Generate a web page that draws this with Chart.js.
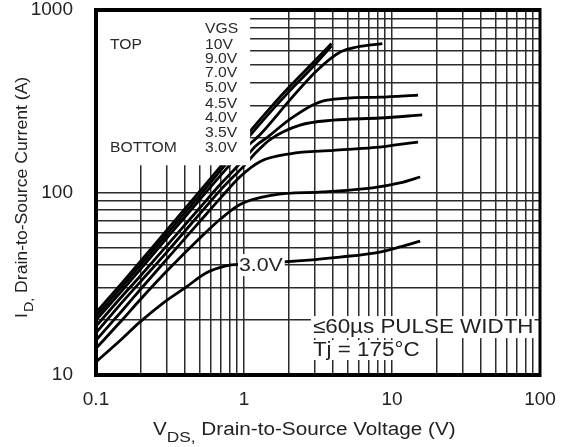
<!DOCTYPE html>
<html>
<head>
<meta charset="utf-8">
<script src="https://cdn.jsdelivr.net/npm/chart.js@4.4.1/dist/chart.umd.min.js"></script>
<style>
html,body{margin:0;padding:0;background:#fff;}
#wrap{width:566px;height:447px;position:relative;}
</style>
</head>
<body>
<div id="wrap"><canvas id="c" width="566" height="447"></canvas></div>
<script>
// ---- data (VDS in V, ID in A) ----
const vgsLabels = ['10V','9.0V','7.0V','5.0V','4.5V','4.0V','3.5V','3.0V'];

const vds_10V = [0.1,0.15,0.2,0.3,0.5,0.7,1,1.5,2,3,3.9];
const id_10V  = [22,32,42,62,101,140,198,290,375,525,655];

const vds_9V  = [0.1,0.15,0.2,0.3,0.5,0.7,1,1.5,2,3,3.9];
const id_9V   = [21,30.5,40,59,96,133,188,275,355,500,635];

const vds_7V  = [0.1,0.15,0.2,0.3,0.5,0.7,1,1.3,2.1,3.1,4.5,5.8,8.6];
const id_7V   = [20,29,38,56,91,125,172,210,330,465,590,627,655];

const vds_5V  = [0.1,0.15,0.2,0.3,0.5,0.7,1,1.2,1.43,2.14,3.64,8.3,15];
const id_5V   = [18.5,27,35,51,82,112,152,180,200,259,321,333,342];

const vds_4_5V = [0.1,0.15,0.2,0.3,0.5,0.7,1,1.2,1.5,2.39,4,8.3,16];
const id_4_5V  = [17,25,32.5,47,76,104,140,165,195,234,249,256,266];

const vds_4V  = [0.1,0.15,0.2,0.3,0.5,0.7,0.94,1.29,2.05,4,7.4,10,15];
const id_4V   = [15.5,22.5,29.5,43,69,94,122,148,163,170,176,181,189];

const vds_3_5V = [0.1,0.15,0.2,0.3,0.5,0.7,0.94,1.57,3.4,7.4,11.3,15.5];
const id_3_5V  = [14,20,26,37,56,72,86,96.8,100.7,106,112.8,121.6];

const vds_3V  = [0.1,0.15,0.195,0.284,0.406,0.554,0.755,1.0,1.83,4.45,8.3,11.3,15.5];
const id_3V   = [11.8,15.8,19.3,24.8,30.3,36.2,39.6,40.5,41.6,44.3,47.2,50.3,54.2];

const xTickLabels = ['0.1','1','10','100'];
const yTickLabels = ['10','100','1000'];

// ---- build ----
function pts(xs, ys){ return xs.map((x,i)=>({x:x, y:ys[i]})); }
const series = [
  [vds_10V,id_10V],[vds_9V,id_9V],[vds_7V,id_7V],[vds_5V,id_5V],
  [vds_4_5V,id_4_5V],[vds_4V,id_4V],[vds_3_5V,id_3_5V],[vds_3V,id_3V]
];
function logGrid(lo, hi){
  const out=[];
  for(let d=lo; d<hi; d++){ for(let k=1;k<10;k++){ out.push(k*Math.pow(10,d)); } }
  out.push(Math.pow(10,hi));
  return out;
}
function isMajor(v){ const l=Math.log10(v); return Math.abs(l-Math.round(l))<1e-9; }
function majorIndex(v, lo){ return Math.round(Math.log10(v)) - lo; }

const FONT = '"Liberation Sans", Arial, sans-serif';
const INK = '#222';

function drawText(ctx, s, x, y, size, sx, align, base){
  ctx.save();
  ctx.font = size + 'px ' + FONT;
  ctx.textBaseline = base || 'middle';
  ctx.translate(x, y);
  ctx.scale(sx, 1);
  ctx.textAlign = align || 'left';
  ctx.fillText(s, 0, 0);
  ctx.restore();
}
function textW(ctx, s, size, sx){
  ctx.save(); ctx.font = size + 'px ' + FONT; const w = ctx.measureText(s).width*sx; ctx.restore(); return w;
}

const overlay = {
  id:'overlay',
  beforeDraw(chart){
    const ctx=chart.ctx; ctx.save(); ctx.fillStyle='#fff'; ctx.fillRect(0,0,chart.width,chart.height); ctx.restore();
  },
  afterDatasetsDraw(chart){
    const ctx=chart.ctx, a=chart.chartArea, xs=chart.scales.x, ys=chart.scales.y;
    ctx.save();
    ctx.fillStyle = INK;
    // legend box (white, hides grid and curves)
    const bx = xs.getPixelForValue(1.1), by = ys.getPixelForValue(141);
    ctx.fillStyle='#fff';
    ctx.fillRect(a.left, a.top, bx-a.left, by-a.top);
    ctx.fillStyle = '#2a2a2a';
    const colX = a.left + 109, leftX = a.left + 14;
    drawText(ctx,'VGS',colX,a.top+19.5,14,1.12);
    drawText(ctx,'TOP',leftX,a.top+35,14,1.12);
    const rowsY=[35,49,63,78,94,108.5,123,138];
    vgsLabels.forEach((l,i)=>drawText(ctx,l,colX,a.top+rowsY[i],14,1.12));
    drawText(ctx,'BOTTOM',leftX,a.top+138,14,1.12);

    // 3.0V curve label
    const lx = xs.getPixelForValue(0.925), ly = ys.getPixelForValue(40);
    const lw = textW(ctx,'3.0V',19,1.12);
    ctx.fillStyle='#fff'; ctx.fillRect(lx-1, ly-11, lw+3, 22);
    ctx.fillStyle=INK; drawText(ctx,'3.0V',lx,ly+1,19,1.12);

    // pulse width note
    const px = xs.getPixelForValue(2.92);
    const p1y = ys.getPixelForValue(18.3), p2y = ys.getPixelForValue(13.7);
    const s1='\u226460\u00b5s PULSE WIDTH', s2='Tj = 175\u00b0C';
    const w1=textW(ctx,s1,20,1.12), w2=textW(ctx,s2,20,1.12);
    ctx.fillStyle='#fff';
    ctx.fillRect(px-2, p1y-11, w1+3, 22);
    ctx.fillRect(px-2, p2y-10, w2+3, 20);
    ctx.fillStyle=INK;
    drawText(ctx,s1,px,p1y,20,1.12);
    drawText(ctx,s2,px,p2y,20,1.12);

    // frame
    ctx.strokeStyle='#000'; ctx.lineWidth=4;
    ctx.beginPath();
    ctx.moveTo(a.right, a.top); ctx.lineTo(a.left, a.top); ctx.lineTo(a.left, a.bottom); ctx.lineTo(a.right, a.bottom);
    ctx.stroke();
    ctx.lineWidth=3;
    ctx.beginPath(); ctx.moveTo(a.right, a.top-2); ctx.lineTo(a.right, a.bottom+2); ctx.stroke();

    // x title: V_DS, Drain-to-Source Voltage (V)
    ctx.fillStyle=INK;
    let x0 = 153, yb = 435;
    drawText(ctx,'V',x0,yb,18,1.15,'left','alphabetic'); x0 += textW(ctx,'V',18,1.15);
    drawText(ctx,'DS,',x0,yb+7,15,1.15,'left','alphabetic'); x0 += textW(ctx,'DS,',15,1.15);
    drawText(ctx,' Drain-to-Source Voltage (V)',x0,yb,18,1.15,'left','alphabetic');

    // y title: I_D, Drain-to-Source Current (A)
    ctx.save();
    ctx.translate(27, 318);
    ctx.rotate(-Math.PI/2);
    let t0 = 0;
    drawText(ctx,'I',t0,0,16,1.1,'left','alphabetic'); t0 += textW(ctx,'I',16,1.1)+1;
    drawText(ctx,'D,',t0,6,13,1.1,'left','alphabetic'); t0 += textW(ctx,'D,',13,1.1);
    drawText(ctx,' Drain-to-Source Current (A)',t0,0,16,1.1,'left','alphabetic');
    ctx.restore();

    ctx.restore();
  }
};

new Chart(document.getElementById('c'), {
  type:'line',
  data:{
    datasets: series.map((s,i)=>({
      label: vgsLabels[i],
      data: pts(s[0], s[1]),
      borderColor:'#000',
      borderWidth:2.8,
      pointRadius:0,
      fill:false,
      cubicInterpolationMode:'monotone'
    }))
  },
  options:{
    responsive:false,
    animation:false,
    devicePixelRatio:1,
    layout:{padding:{left:0,right:26,top:10,bottom:0}},
    plugins:{legend:{display:false}, tooltip:{enabled:false}},
    scales:{
      x:{
        type:'logarithmic', min:0.1, max:100, position:'bottom',
        border:{display:false},
        grid:{color:'#2b2b2b', lineWidth:1.5, drawTicks:false},
        ticks:{autoSkip:false, maxRotation:0, padding:13, color:INK,
          font:{family:FONT, size:19},
          callback:(v)=> isMajor(v) ? xTickLabels[majorIndex(v,-1)] : ''},
        afterBuildTicks:(s)=>{ s.ticks = logGrid(-1,2).map(v=>({value:v})); },
        afterFit:(s)=>{ s.height = 72; s.paddingLeft=0; s.paddingRight=0; }
      },
      y:{
        type:'logarithmic', min:10, max:1000,
        border:{display:false},
        grid:{color:'#2b2b2b', lineWidth:1.5, drawTicks:false},
        ticks:{autoSkip:false, padding:23, color:INK,
          font:{family:FONT, size:19},
          callback:(v)=> isMajor(v) ? yTickLabels[majorIndex(v,1)] : ''},
        afterBuildTicks:(s)=>{ s.ticks = logGrid(1,3).map(v=>({value:v})); },
        afterFit:(s)=>{ s.width = 96; s.paddingTop=0; s.paddingBottom=0; }
      }
    }
  },
  plugins:[overlay]
});
</script>
</body>
</html>
